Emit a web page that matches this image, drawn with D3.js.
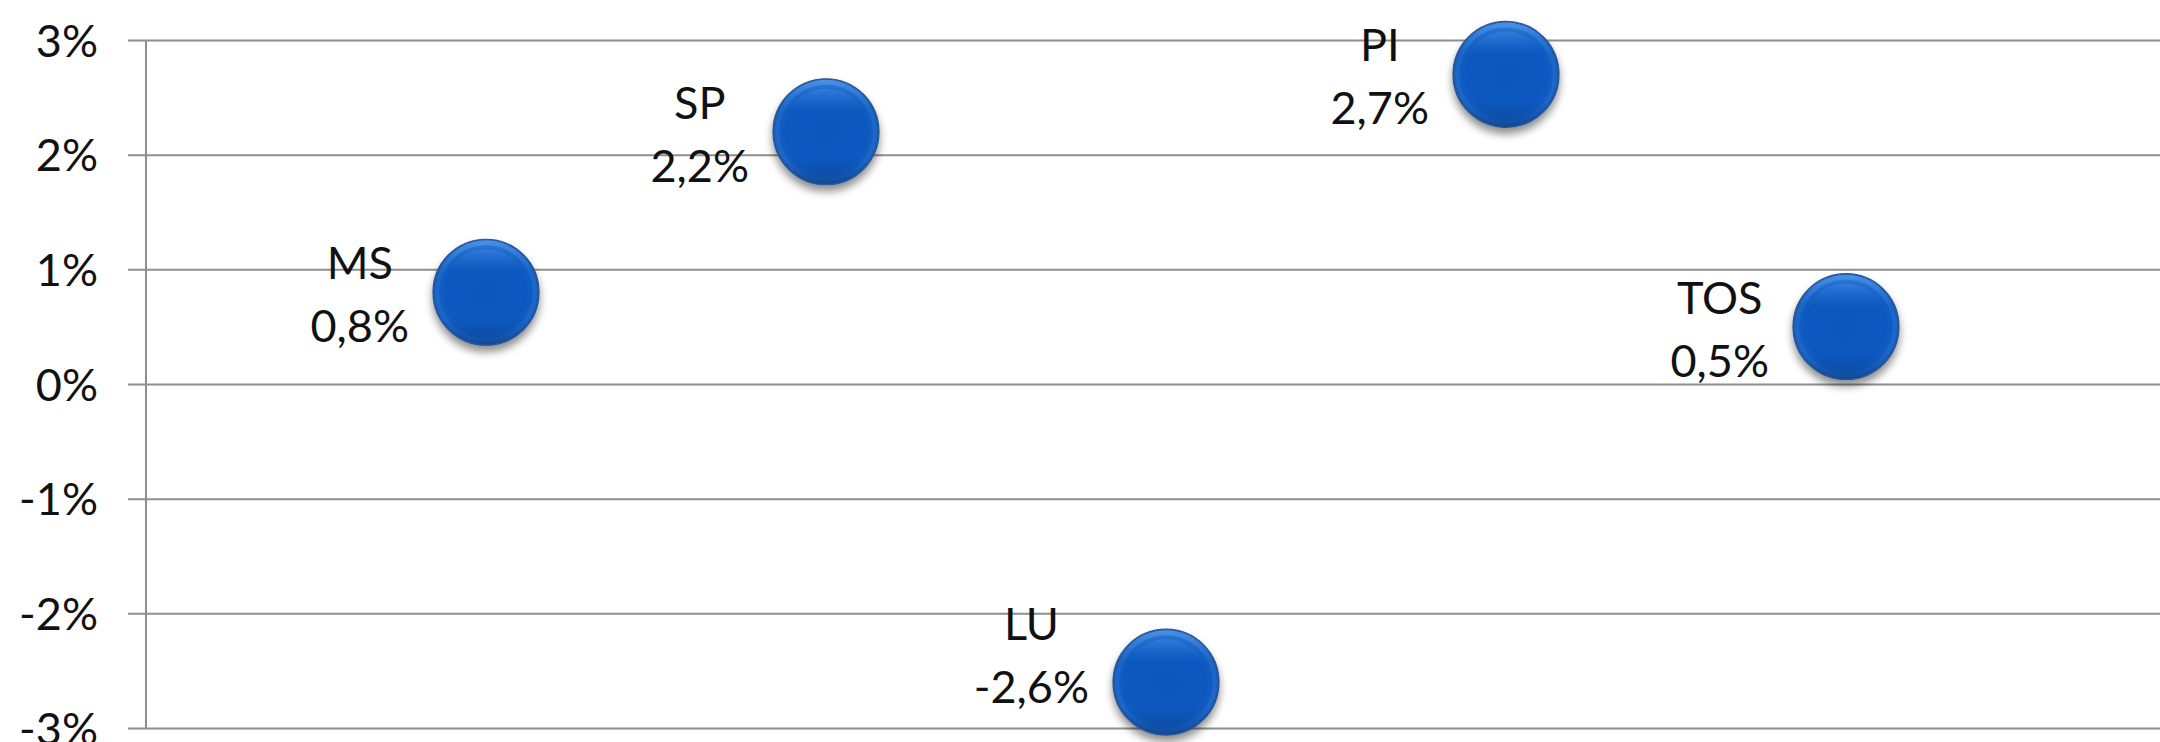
<!DOCTYPE html>
<html>
<head>
<meta charset="utf-8">
<script src="https://cdn.jsdelivr.net/npm/d3@7"></script>
<style>
  html, body { margin: 0; padding: 0; background: #ffffff; overflow: hidden; }
  svg { display: block; }
  text { font-family: Lato, "Open Sans", "Noto Sans", sans-serif; fill: #111; }
</style>
</head>
<body>
<svg id="chart" width="2160" height="742"></svg>
<script>
// Regions and their percentage change
const categories = ["MS", "SP", "LU", "PI", "TOS"];
const xSlots = [1, 2, 3, 4, 5];
const values = [0.8, 2.2, -2.6, 2.7, 0.5];
const valueLabels = ["0,8%", "2,2%", "-2,6%", "2,7%", "0,5%"];
const yTicks = [-3, -2, -1, 0, 1, 2, 3];
const yTickLabels = ["-3%", "-2%", "-1%", "0%", "1%", "2%", "3%"];

const svg = d3.select("#chart");
const W = 2160, H = 742;

const x = d3.scaleLinear().domain([0, 6]).range([146, 2186]);
const y = d3.scaleLinear().domain([-3, 3]).range([728, 40]);

const defs = svg.append("defs");

// bubble body: flat blue centre with a bevelled rim
const body = defs.append("radialGradient").attr("id", "bubbleBody")
  .attr("cx", "50%").attr("cy", "50%").attr("r", "50%");
[["0%", "#0b57bd"], ["78%", "#0c59c0"], ["88%", "#1a67cf"], ["95%", "#1f66c4"], ["100%", "#1a4f95"]]
  .forEach(([o, c]) => body.append("stop").attr("offset", o).attr("stop-color", c));

// lighter top edge, darker bottom edge
const rim = defs.append("linearGradient").attr("id", "bubbleRim")
  .attr("x1", "0").attr("y1", "0").attr("x2", "0").attr("y2", "1");
[["0%", "#5aa2f5", 0.75], ["30%", "#3b86e6", 0.0], ["75%", "#0a3f8a", 0.0], ["100%", "#08346f", 0.55]]
  .forEach(([o, c, a]) => rim.append("stop").attr("offset", o).attr("stop-color", c).attr("stop-opacity", a));

const shadow = defs.append("filter").attr("id", "dropShadow")
  .attr("x", "-30%").attr("y", "-30%").attr("width", "160%").attr("height", "170%");
shadow.append("feGaussianBlur").attr("in", "SourceAlpha").attr("stdDeviation", 4).attr("result", "b");
shadow.append("feOffset").attr("in", "b").attr("dx", 0).attr("dy", 6).attr("result", "o");
shadow.append("feComponentTransfer").attr("in", "o").attr("result", "s")
  .append("feFuncA").attr("type", "linear").attr("slope", 0.45);
const merge = shadow.append("feMerge");
merge.append("feMergeNode").attr("in", "s");
merge.append("feMergeNode").attr("in", "SourceGraphic");

// horizontal gridlines with outward tick stubs
const yAxis = d3.axisLeft(y)
  .tickValues(yTicks)
  .tickSize(-(W - x(0) + 20))
  .tickSizeOuter(0)
  .tickPadding(0)
  .tickFormat((d, i) => yTickLabels[i]);

const gAxis = svg.append("g").attr("transform", `translate(${x(0)},0)`).call(yAxis);
gAxis.select(".domain").remove();
gAxis.selectAll(".tick line")
  .attr("x1", -18)
  .attr("stroke", "#8e8e8e").attr("stroke-width", 2);
gAxis.selectAll(".tick text")
  .attr("x", -48).attr("dy", "0.36em")
  .attr("text-anchor", "end")
  .style("font-size", "45px").style("fill", "#111");

// vertical axis line
svg.append("line")
  .attr("x1", x(0)).attr("x2", x(0))
  .attr("y1", y(3)).attr("y2", y(-3))
  .attr("stroke", "#8e8e8e").attr("stroke-width", 2);

const R = 53;
const data = categories.map((c, i) => ({ name: c, slot: xSlots[i], v: values[i], label: valueLabels[i] }));

const pts = svg.append("g").selectAll("g.pt").data(data).join("g").attr("class", "pt")
  .attr("transform", d => `translate(${x(d.slot)},${y(d.v)})`);

pts.append("circle").attr("r", R).attr("fill", "url(#bubbleBody)")
  .attr("stroke", "#2a5697").attr("stroke-width", 1.2)
  .attr("filter", "url(#dropShadow)");
pts.append("circle").attr("r", R - 1).attr("fill", "url(#bubbleRim)");
pts.append("circle").attr("r", R - 8).attr("fill", "none")
  .attr("stroke", "#0a4fae").attr("stroke-opacity", 0.35).attr("stroke-width", 4);

// two-line data labels to the left of each bubble, kept inside the chart
const labels = svg.append("g").selectAll("text.lbl").data(data).join("text")
  .attr("class", "lbl")
  .attr("text-anchor", "middle")
  .style("font-size", "45px");
labels.append("tspan").attr("class", "n").text(d => d.name);
labels.append("tspan").attr("class", "v").text(d => d.label);

const lineGap = 63;
const maxValueBaseline = 703;

labels.each(function (d) {
  const t = d3.select(this);
  const wN = t.select("tspan.n").node().getComputedTextLength();
  const wV = t.select("tspan.v").node().getComputedTextLength();
  const w = Math.max(wN, wV);
  const cx = x(d.slot) - R - 24 - w / 2;
  const vy = Math.min(y(d.v) + 50, maxValueBaseline);
  t.select("tspan.n").attr("x", cx).attr("y", vy - lineGap);
  t.select("tspan.v").attr("x", cx).attr("y", vy);
});
</script>
</body>
</html>
